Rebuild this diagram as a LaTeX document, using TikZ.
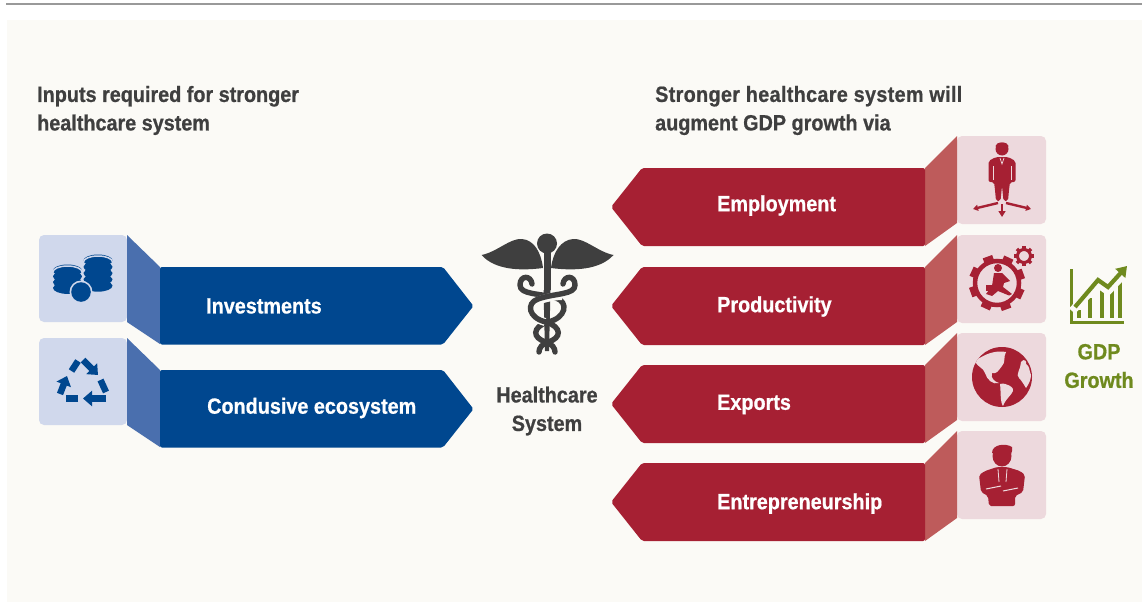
\documentclass[tikz,border=0pt]{standalone}
\usepackage{fontspec}
\setmainfont[FakeStretch=0.9,BoldFeatures={FakeBold=0.7}]{Liberation Sans}
\usetikzlibrary{arrows.meta}
\definecolor{pagebg}{HTML}{FBFAF6}
\definecolor{bluemain}{HTML}{00478F}
\definecolor{blueflap}{HTML}{4A6FAE}
\definecolor{bluebox}{HTML}{D0D8EC}
\definecolor{redmain}{HTML}{A62033}
\definecolor{redflap}{HTML}{BE5B5B}
\definecolor{redbox}{HTML}{EDD9DD}
\definecolor{darkgrey}{HTML}{3F3F3F}
\definecolor{olive}{HTML}{6F8A1E}
\tikzset{
  x=1pt,y=-1pt,
  lab/.style={font=\bfseries\fontsize{22}{24}\selectfont,text=white,inner sep=0,anchor=west},
  head/.style={font=\bfseries\fontsize{22}{28.5}\selectfont,text=darkgrey,inner sep=0,anchor=west,align=left},
  ctr/.style={font=\bfseries\fontsize{22}{28.5}\selectfont,inner sep=0,align=center},
  snake/.style={draw=darkgrey,line width=5.4pt,line cap=round},
  casing/.style={draw=pagebg,line width=8pt},
  rec/.style={draw=bluemain,line width=6.5pt},
  rectip/.style={-{Triangle[length=9pt,width=15pt]}},
  chart/.style={draw=olive,line width=3.5pt}
}
\newcommand{\bluerow}[1]{%
  \fill[bluebox,rounded corners=5pt] (39,#1) rectangle (127,#1+87);
  \fill[blueflap] (127,#1) -- (160,#1+32) -- (160,#1+109) -- (127,#1+87) -- cycle;
  \fill[bluemain,rounded corners=2pt] (160,#1+32) -- (443,#1+32) -- (473.5,#1+71) -- (443,#1+109.5) -- (160,#1+109.5) -- cycle;
}
\newcommand{\redrow}[1]{%
  \fill[redbox,rounded corners=5pt] (957,#1) rectangle (1046,#1+88);
  \fill[redflap] (957,#1) -- (925,#1+32) -- (925,#1+110) -- (957,#1+87) -- cycle;
  \fill[redmain,rounded corners=2pt] (925,#1+32) -- (642,#1+32) -- (611,#1+71) -- (642,#1+110) -- (925,#1+110) -- cycle;
}
\newcommand{\coinstack}[4]{% x, top y, count, gap
  \foreach \i in {#3,...,1}{
    \fill[bluemain] (#1,#2+\i*#4) ellipse (14.5 and 6);
    \draw[bluebox,line width=1.5pt] (#1-14.5,#2+\i*#4-1.5) arc[start angle=180,end angle=360,x radius=14.5,y radius=6];
  }
  \fill[bluemain] (#1,#2) ellipse (14.5 and 6);
  \draw[bluebox,line width=1.5pt] (#1-14.5,#2+1.5) arc[start angle=180,end angle=360,x radius=14.5,y radius=6];
}
\begin{document}
\begin{tikzpicture}
\useasboundingbox (0,0) rectangle (1142,607);
\fill[white] (0,0) rectangle (1142,607);
\fill[pagebg] (7,20) rectangle (1142,602);
\draw[draw=gray!80,line width=1.3pt] (6,4) -- (1142,4);

% blue rows
\bluerow{235}
\bluerow{338}
% red rows
\redrow{136}
\redrow{235}
\redrow{333}
\redrow{431}

% headings and labels
\node[head] (h1) at (37,110.5) {Inputs required for stronger\\healthcare system};
\node[head] (h2) at (655,110.5) {\addfontfeature{LetterSpace=1.5}Stronger healthcare system will\\augment GDP growth via};
\node[lab] (l1) at (206,306) {Investments};
\node[lab] (l2) at (207,408) {Condusive ecosystem};
\node[lab] (r1) at (717,205.5) {Employment};
\node[lab] (r2) at (717,306.5) {Productivity};
\node[lab] (r3) at (717,404.5) {Exports};
\node[lab] (r4) at (717,503.5) {Entrepreneurship};
\node[ctr,text=darkgrey] (hs) at (547,411) {Healthcare\\System};
\node[ctr,text=olive] (gdp) at (1099,366) {GDP\\Growth};

% coins
\coinstack{98}{260.5}{4}{6.3}
\coinstack{67.5}{270.5}{3}{5.8}
\fill[bluebox] (81,292) circle (11.5);
\fill[bluemain] (81,292) circle (9.8);

% recycle
\draw[rec,rectip] (83,360) -- (98,375);
\draw[rec] (100.5,380) -- (106,392);
\draw[rec,rectip] (106,398.5) -- (83,398.5);
\draw[rec] (78,398.5) -- (66,398.5);
\draw[rec,rectip] (60,394) -- (67,376);
\draw[rec] (71.5,371) -- (78,361);

% caduceus
\fill[darkgrey] (547,243.5) circle (10);
\fill[darkgrey] (481.5,255) .. controls (497,252) and (510,238) .. (522,239) .. controls (534,240) and (541,252) .. (543,268)
  .. controls (520,271) and (495,270) .. (481.5,255) -- cycle;
\fill[darkgrey] (613.5,255) .. controls (598,252) and (585,238) .. (573,239) .. controls (561,240) and (553,252) .. (551,268)
  .. controls (574,271) and (600,270) .. (613.5,255) -- cycle;
\draw[darkgrey,line width=7pt] (547,250) -- (547,290);
\fill[darkgrey] (543.5,290) -- (550.5,290) -- (549,351) -- (545,351) -- cycle;
\draw[snake] (532,284) .. controls (531,275) and (520,275) .. (520,285)
  .. controls (520,295) and (540,293) .. (556,298)
  .. controls (569,302) and (566,318) .. (548,322)
  .. controls (532,327) and (532,338) .. (546,342) .. controls (552,344) and (555,348) .. (555,352);
\draw[casing] (562,296) .. controls (555,296) and (545,298) .. (537,301) .. controls (527,305) and (527,317) .. (545,322);
\draw[snake] (563,284) .. controls (564,275) and (575,275) .. (575,285)
  .. controls (575,295) and (555,293) .. (538,299)
  .. controls (526,303) and (528,318) .. (546,322)
  .. controls (562,327) and (562,338) .. (548,342) .. controls (542,344) and (539,348) .. (539,352);

% employee with arrows
\fill[redmain] (1002,149) circle (6.5);
\fill[redmain] (1002,146) ellipse (6.5 and 3.5);
\fill[redmain,rounded corners=2pt] (988.5,161) -- (996,157) -- (1008,157) -- (1015.5,161) -- (1015.5,182) -- (1010,182) -- (1009,190) -- (1008,201) -- (1003.5,201) -- (1002,186) -- (1000.5,201) -- (996,201) -- (995,190) -- (994,182) -- (988.5,182) -- cycle;
\draw[redbox,line width=.7pt] (993,166) -- (993,180);
\draw[redbox,line width=.7pt] (1011,166) -- (1011,180);
\draw[redbox,line width=.7pt] (1000,158) -- (1002,164) -- (1004,158);
\draw[redmain,line width=2.4pt,-{Triangle[length=5pt,width=6pt]}] (998,203) -- (973,209);
\draw[redmain,line width=2.4pt,-{Triangle[length=5pt,width=6pt]}] (1006,203) -- (1031,209);
\draw[redmain,line width=2.4pt,-{Triangle[length=6pt,width=7pt]}] (1002,204) -- (1002,217);

% gear
\draw[redmain,line width=4.5pt] (997,283) circle (22);
\foreach \a in {0,45,...,315}
  \fill[redmain,rotate around={\a+20:(997,283)}] (992,255) rectangle (1002,262);
\draw[redmain,line width=3pt] (1024,256) circle (6.5);
\foreach \a in {0,45,...,315}
  \fill[redmain,rotate around={\a:(1024,256)}] (1022.3,246) rectangle (1025.7,250);
\fill[redmain] (998,268) circle (4);
\fill[redmain] (994,273) -- (1002,273) -- (1010,281) -- (1004,283) -- (1003,287) -- (1012,294) -- (1009,295.5) -- (998,291) -- (992,296) -- (986,294) -- (992,286) -- cycle;
\fill[redmain] (986,285) rectangle (992,291);

% globe
\fill[redmain] (1002,377) circle (30);
\begin{scope}
\clip (1002,377) circle (30);
\fill[redbox] (975,361) .. controls (985,354) and (995,350) .. (1006,352) .. controls (1003,357) and (1006,362) .. (1002,366) .. controls (998,371) and (997,374) .. (992,373) .. controls (990,378) and (995,382) .. (999,383) .. controls (993,385) and (987,380) .. (985,373) .. controls (983,367) and (978,368) .. (975,361) -- cycle;
\fill[redbox] (1000,384) .. controls (1006,382) and (1015,388) .. (1013,391) .. controls (1011,396) and (1006,398) .. (1003,406) .. controls (1000,402) and (1001,392) .. (1000,384) -- cycle;
\fill[redbox] (1021,362) .. controls (1024,358) and (1027,361) .. (1026,364) .. controls (1030,366) and (1029,371) .. (1031,375) .. controls (1031,379) and (1029,384) .. (1026,388) .. controls (1023,383) and (1021,380) .. (1019,378) .. controls (1015,375) and (1021,369) .. (1021,362) -- cycle;
\end{scope}

% entrepreneur
\fill[redmain] (1002,456) ellipse (9.5 and 10.5);
\fill[redmain] (992,453) .. controls (992,444) and (1006,443) .. (1012,447) .. controls (1012.5,450) and (1012,452) .. (1011,454) -- cycle;
\fill[redmain,rounded corners=2pt] (979,475) -- (985,471) -- (997,467) -- (1007,467) -- (1020,471) -- (1025,475) -- (1023,492) -- (1015,496) -- (1015,506) -- (989,506) -- (988,496) -- (981,492) -- cycle;
\draw[redbox,line width=.8pt] (998,469) -- (999,482);
\draw[redbox,line width=.8pt] (1007,469) -- (1006,482);
\draw[redbox,line width=1pt] (986,489) -- (1001,486);
\draw[redbox,line width=1pt] (1003,491) -- (1018,488);

% chart
\draw[chart] (1071.5,269) -- (1071.5,322.5) -- (1124,322.5);
\foreach \x/\t in {1079/310,1090/298,1102/285,1112/288,1120/278}
  \draw[olive,line width=3.6pt] (\x,\t) -- (\x,318);
\draw[pagebg,line width=8pt] (1072,311) -- (1098,284) -- (1108,291) -- (1124,274);
\draw[olive,line width=4.2pt,-{Triangle[length=10pt,width=13pt]}] (1075,307) -- (1098,280) -- (1108,287) -- (1127,266);
\end{tikzpicture}
\end{document}
